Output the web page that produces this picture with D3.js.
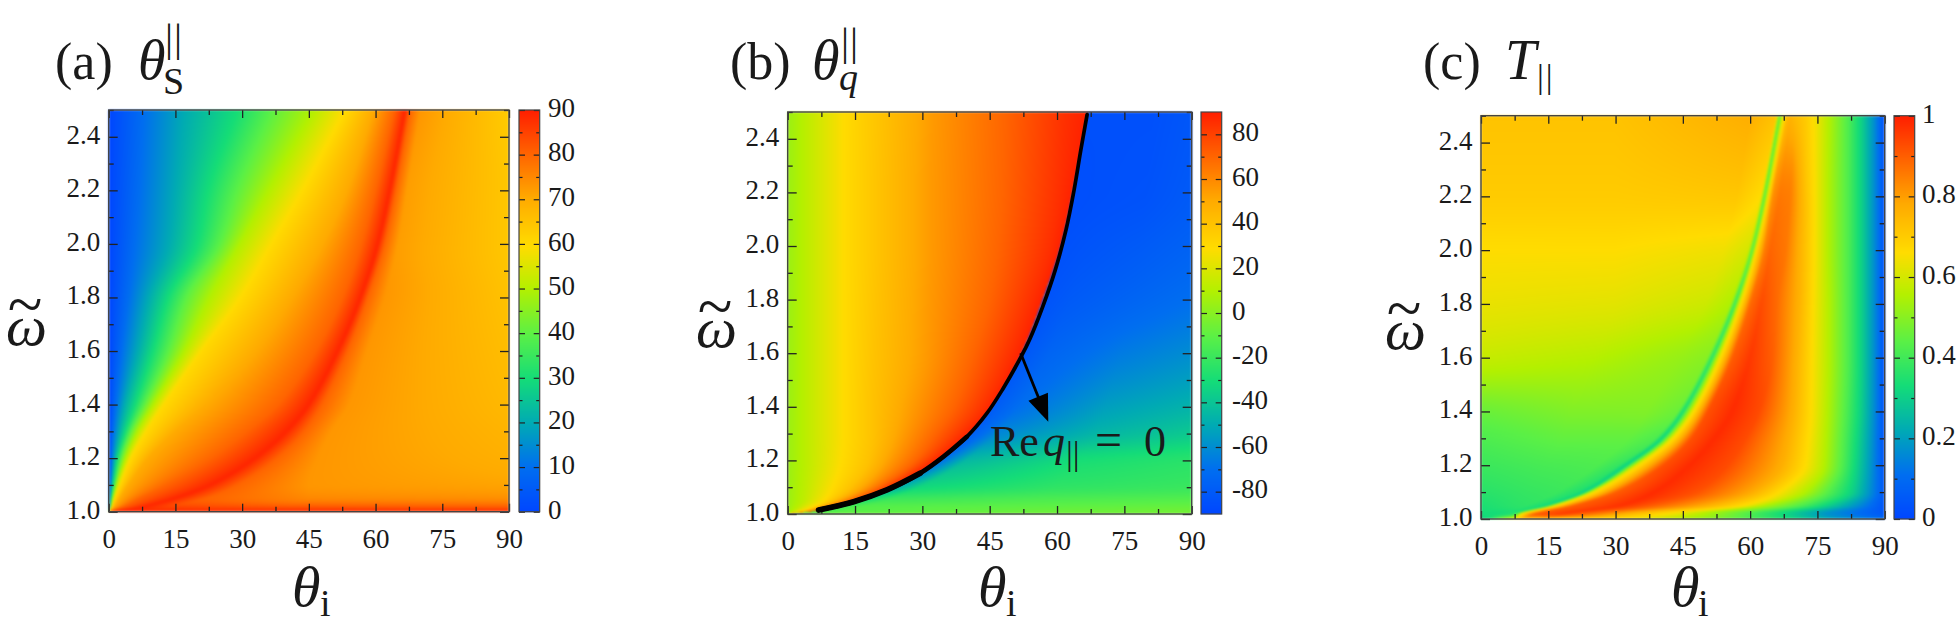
<!DOCTYPE html>
<html><head><meta charset="utf-8">
<script src="https://cdn.jsdelivr.net/npm/d3@7"></script>
<style>html,body{margin:0;padding:0;background:#fff}svg{display:block}text{font-family:"Liberation Serif",serif;fill:#1a1a1a}</style>
</head><body><svg id="c" width="1959" height="622"></svg>
<script>
// ---------- colour map ----------
const cmapStops=[0,.11,.22,.33,.44,.556,.66,.78,.89,1];
const cmapColors=["#0046ff","#006ef0","#00aab4","#14dc78","#5af046","#b4f000","#ffdc00","#ffaa00","#ff6400","#ff1e00"];

// ---------- panel (a): theta_S ----------
const aOmega=[1,1.006,1.012,1.02,1.05,1.1,1.2,1.3,1.4,1.6,1.8,2.0,2.2,2.5];
const aLevels=[0,10,20,30,40,50,60,70,80,89];
const aTheta=[
[0,.02,.04,.06,.08,.1,.12,.2,.3,.5,30,60,90],
[0,.03,.06,.09,.12,.16,.22,.5,1.2,3,10,40,90],
[0,.06,.12,.18,.25,.35,.5,.9,2.2,6,12,40,90],
[0,.1,.2,.3,.4,.5,.7,1.3,3.5,8.2,14,40,90],
[0,.15,.3,.5,.7,1,1.3,2.5,7,15,22,45,90],
[0,.3,.6,1,1.4,1.8,2.5,4.5,13,23,29,45,90],
[0,.6,1.3,2,2.8,3.8,5,9,23,33,38,47,90],
[0,1,2.3,3.8,5,6.5,8.5,15,31,40,44,50,90],
[0,1.6,3.5,6,8,10,12.5,22,38,45,48,54,90],
[0,3,6.5,10,13.5,17,21,33,46.5,51.5,53.7,58,90],
[0,4.5,9,13.5,17.5,22.8,30,41,52.5,56.6,58.2,62,90],
[0,6,13.5,20,25,29.5,37,48,56.8,60.5,62,65,90],
[0,7,15,22.5,29,36,44,53.5,60,63.2,64.5,67,90],
[0,8,17,29,37,46,53.5,59.5,64.2,66.6,67.7,70,90]];
const aRight=[[88,88,88],[87,86,86],[86,84,83],[84,81,80],[80,75,74],[80,73,71],[80,73,69],[80,73,68],[80,73,67],[80,73,66],[80,73,65],[80,72,64],[80,72,64],[80,73,63]];

// ---------- panel (b): theta_q ----------
const bOmega=[1,1.012,1.02,1.05,1.1,1.2,1.3,1.4,1.6,1.8,2.0,2.2,2.5];
const bLevels=[4,13,29,40,55,70,85,89];
const bRidge=[.5,6.3,8.2,15.5,23.3,33.6,40.6,45.4,52.1,56.8,60.8,63.5,66.8];
const bLeft=[
[0,.1,.2,.25,.3,.35,.4],
[0,1.5,3,4,5,5.6,6.1],
[0,2,4.5,5.5,6.5,7.2,7.9],
[0,3.5,8,10,12,14,15.1],
[0,4,10,14,17.5,20.5,22.7],
[0,4.5,12,18,23,28.5,32.3],
[0,4.5,12.5,19,26,33,39],
[0,4.5,12.5,19,28,37,44],
[0,4.5,12.5,19.5,31,41.5,50],
[0,4.5,12.5,20,31.5,45,54.5],
[0,4.5,12.5,20.5,32,47,58.5],
[0,4.5,12.5,20.5,32,48,60.5],
[0,4.5,12.5,21,32.5,48.5,62]];
const bRightVals=[[-6,-6,-6,-5],[-20,-12,-8,-6],[-20,-12,-9,-7],[-30,-18,-14,-12],[-52,-32,-23,-20],[-72,-45,-30,-25],[-78,-62,-46,-38],[-80,-70,-54,-47],[-82,-75,-66,-60],[-84,-80,-75,-70],[-85,-83,-80,-76],[-86,-85,-84,-80],[-85,-85,-85,-82]];
const lineOmega=[1.015,1.046,1.09,1.152,1.214,1.288,1.376,1.463,1.587,1.655,1.773,1.91,2.06,2.209,2.358,2.49];
const lineTheta=[6.9,14.7,22.1,29.5,34.7,39.9,44.4,47.8,52,54,56.8,59.6,62,63.8,65.3,66.7];
const lineThick=[{count:16,width:3.7},{count:6,width:4.6},{count:4,width:5.8}];
const arrowTheta=[51.9,58.05];
const arrowOmega=[1.6,1.344];

// ---------- panel (c): T ----------
const cOmega=[1,1.02,1.05,1.1,1.2,1.3,1.4,1.6,1.8,2.0,2.2,2.5];
const cTheta=[
[0,2,4,6,7,8,9,14,22,28,38,50,60,70,80,90],
[0,3,5.5,7.2,8,8.8,12,18,26,32,42,50,60,69,77,90],
[0,6,10,13.4,14.6,16,20.5,31,38,49,59,63,71.5,77.5,83.5,90],
[0,10,17,21.5,22.9,24.5,30,38.6,48,60,67,72.5,78,83,86.5,90],
[0,14,26,30.8,32.3,34.5,40.5,46.5,55,67,72.8,76.8,80.8,84,87,90],
[0,18,33,39,40.3,42.3,46.8,52,59,68.5,73.5,77.2,81.2,84.4,87.2,90],
[0,20,37,44,45,47,50.5,56,62,69.5,74,77.5,81.6,84.8,87.4,90],
[0,25,44,50.5,51.5,53,56,60,65,70.5,74.2,77.8,82,85,87.5,90],
[0,30,50,55.7,56.6,57.6,60,62.5,66,71,74.4,77.8,82,85,87.5,90],
[0,30,54,59.7,60.5,61.3,63.2,64.5,68,71.5,74.6,77.6,82,85,87.5,90],
[0,30,57,62.5,63.2,63.9,65,66.5,69,72.5,74.6,77.6,82,85,87.5,90],
[0,30,60,65.9,66.6,67.2,68.3,69,70,72.5,74.5,77.8,82,85,87.5,90]];
const cValue=[
[.3,.35,.5,.6,.66,.68,.7,.7,.68,.66,.6,.5,.42,.32,.2,.12],
[.33,.33,.34,.36,.42,.62,.9,.95,.85,.76,.65,.55,.42,.3,.18,.05],
[.34,.36,.37,.34,.31,.62,.9,.97,.9,.78,.65,.55,.42,.3,.18,.04],
[.36,.38,.39,.35,.3,.62,.9,.98,.92,.78,.65,.55,.42,.3,.18,.05],
[.39,.41,.42,.38,.3,.62,.92,.98,.93,.77,.65,.55,.42,.3,.18,.04],
[.42,.45,.45,.42,.31,.62,.92,.98,.93,.77,.65,.55,.42,.3,.18,.04],
[.46,.49,.49,.46,.33,.62,.92,.98,.93,.77,.65,.55,.42,.3,.18,.04],
[.58,.56,.52,.5,.36,.62,.9,.96,.9,.76,.65,.55,.42,.3,.18,.04],
[.63,.62,.59,.55,.38,.62,.88,.93,.88,.76,.65,.55,.42,.3,.18,.04],
[.66,.66,.64,.6,.42,.65,.85,.89,.86,.75,.65,.55,.42,.3,.18,.04],
[.7,.7,.71,.66,.42,.62,.82,.86,.85,.72,.65,.55,.42,.3,.18,.04],
[.72,.72,.77,.72,.42,.6,.74,.76,.74,.7,.65,.55,.42,.3,.18,.03]];

// ---------- ticks ----------
const xMajor=[0,15,30,45,60,75,90];
const xMinor=[7.5,22.5,37.5,52.5,67.5,82.5];
const yMajor=[1,1.2,1.4,1.6,1.8,2,2.2,2.4];
const yMinor=[1.1,1.3,1.5,1.7,1.9,2.1,2.3,2.5];
const barA={domain:[0,90],major:[0,10,20,30,40,50,60,70,80,90],minor:[5,15,25,35,45,55,65,75,85]};
const barB={domain:[-90,90],major:[-80,-60,-40,-20,0,20,40,60,80],minor:[-70,-50,-30,-10,10,30,50,70]};
const barC={domain:[0,1],major:[0,.2,.4,.6,.8,1],minor:[.1,.3,.5,.7,.9]};

// ---------- layout ----------
const panelA={l:108.7,r:509,t:110,b:511.7,cl:519,cr:539.7,lab:548};
const panelB={l:787.7,r:1191.7,t:112,b:514,cl:1201,cr:1221.7,lab:1232};
const panelC={l:1481,r:1884.7,t:115.7,b:519,cl:1894,cr:1914.7,lab:1922};

const svg=d3.select("#c");
const cmap=d3.scaleLinear().domain(cmapStops).range(cmapColors).interpolate(d3.interpolateRgb).clamp(true);

function rowsA(){return {om:aOmega,T:aTheta,V:aRight.map(r=>aLevels.concat(r))};}
function rowsB(){
  const T=bLeft.map((row,i)=>{const r=bRidge[i];return row.concat([r,r+.03,r+6,(r+6+90)/2,90]);});
  const V=bRightVals.map(r=>bLevels.slice(0,7).concat([89]).concat(r));
  return {om:bOmega,T,V};
}
function rowsC(){return {om:cOmega,T:cTheta,V:cValue};}

// monotone cubic between rows, so that features run smoothly from row to row
function rowInterp(om,table,k,i,t){
  const n=om.length;
  const slope=a=>(table[a+1][k]-table[a][k])/(om[a+1]-om[a]);
  const tan=a=>{
    if(a<=0)return slope(0);
    if(a>=n-1)return slope(n-2);
    const s0=slope(a-1),s1=slope(a);
    return s0*s1<=0?0:2*s0*s1/(s0+s1);
  };
  const h=om[i+1]-om[i],t2=t*t,t3=t2*t;
  return (2*t3-3*t2+1)*table[i][k]+(t3-2*t2+t)*h*tan(i)+(-2*t3+3*t2)*table[i+1][k]+(t3-t2)*h*tan(i+1);
}

function heat(P,rows,domain){
  const x=d3.scaleLinear().domain([0,90]).range([P.l,P.r]);
  const y=d3.scaleLinear().domain([1,2.5]).range([P.b,P.t]);
  const w=Math.round(P.r-P.l),h=Math.round(P.b-P.t);
  const cv=document.createElement("canvas");cv.width=w;cv.height=h;
  const ctx=cv.getContext("2d");const im=ctx.createImageData(w,h);
  const frac=d3.scaleLinear().domain(domain).range([0,1]);
  const nk=rows.T[0].length;
  for(let py=0;py<h;py++){
    const om=y.invert(P.t+py+.5);
    const i=Math.min(rows.om.length-2,Math.max(0,d3.bisectRight(rows.om,om)-1));
    const t=Math.max(0,Math.min(1,(om-rows.om[i])/(rows.om[i+1]-rows.om[i])));
    const K=[],Z=[];
    for(let k=0;k<nk;k++){K.push(rowInterp(rows.om,rows.T,k,i,t));Z.push(rowInterp(rows.om,rows.V,k,i,t));}
    for(let k=1;k<nk;k++)if(K[k]<K[k-1])K[k]=K[k-1];
    for(let px=0;px<w;px++){
      const th=x.invert(P.l+px+.5);
      const j=Math.min(K.length-2,Math.max(0,d3.bisectRight(K,th)-1));
      const d=K[j+1]-K[j];const u=d>0?Math.max(0,Math.min(1,(th-K[j])/d)):0;
      const c=d3.rgb(cmap(frac(Z[j]+(Z[j+1]-Z[j])*u)));
      const o=(py*w+px)*4;im.data[o]=c.r;im.data[o+1]=c.g;im.data[o+2]=c.b;im.data[o+3]=255;
    }
  }
  ctx.putImageData(im,0,0);
  svg.append("image").attr("x",P.l).attr("y",P.t).attr("width",P.r-P.l).attr("height",P.b-P.t)
    .attr("preserveAspectRatio","none").attr("href",cv.toDataURL()).style("filter","blur(0.8px)");
  return {x,y};
}

function axisSet(sc,P){
  const lab=27;
  const mk=(fn,s,vals,len,tr,fmt,pad)=>{
    const g=svg.append("g").attr("transform",tr);
    g.call(fn(s).tickValues(vals).tickSize(-len).tickSizeOuter(0).tickPadding(pad||0).tickFormat(fmt||(()=>"")));
    g.select(".domain").remove();
    g.selectAll("line").attr("stroke","#222").attr("stroke-width",1.3);
    g.attr("font-family",null).attr("font-size",null);
    g.selectAll("text").style("font-size",lab+"px").style("font-family",'"Liberation Serif",serif').style("fill","#1a1a1a");
    return g;
  };
  mk(d3.axisBottom,sc.x,xMajor,8,`translate(0,${P.b})`,d=>d,15).selectAll("text").attr("dy",null).attr("y",36).attr("text-anchor","middle");
  mk(d3.axisBottom,sc.x,xMinor,5,`translate(0,${P.b})`);
  mk(d3.axisTop,sc.x,xMajor,8,`translate(0,${P.t})`);
  mk(d3.axisTop,sc.x,xMinor,5,`translate(0,${P.t})`);
  mk(d3.axisLeft,sc.y,yMajor,9,`translate(${P.l},0)`,d3.format(".1f"),8.5).selectAll("text").attr("dy",null).attr("y",6.5);
  mk(d3.axisLeft,sc.y,yMinor,5,`translate(${P.l},0)`);
  mk(d3.axisRight,sc.y,yMajor,9,`translate(${P.r},0)`);
  mk(d3.axisRight,sc.y,yMinor,5,`translate(${P.r},0)`);
  svg.append("rect").attr("x",P.l).attr("y",P.t).attr("width",P.r-P.l).attr("height",P.b-P.t)
    .attr("fill","none").attr("stroke","#444").attr("stroke-width",1.4);
}

function colorBar(P,bar,fmt){
  const y=d3.scaleLinear().domain(bar.domain).range([P.b,P.t]);
  const frac=d3.scaleLinear().domain(bar.domain).range([0,1]);
  const steps=d3.range(Math.ceil(P.t),Math.ceil(P.b));
  svg.append("g").selectAll("rect").data(steps).join("rect")
    .attr("x",P.cl).attr("y",d=>d).attr("width",P.cr-P.cl).attr("height",1.2)
    .attr("fill",d=>cmap(frac(y.invert(d+.5))));
  const mk=(fn,vals,len,tr,f)=>{
    const g=svg.append("g").attr("transform",tr);
    g.call(fn(y).tickValues(vals).tickSize(-len).tickSizeOuter(0).tickPadding(0).tickFormat(f||(()=>"")));
    g.select(".domain").remove();
    g.selectAll("line").attr("stroke","#222").attr("stroke-width",1.2);
    return g;
  };
  mk(d3.axisLeft,bar.major,6,`translate(${P.cl},0)`);
  mk(d3.axisLeft,bar.minor,3.5,`translate(${P.cl},0)`);
  mk(d3.axisRight,bar.major,6,`translate(${P.cr},0)`);
  mk(d3.axisRight,bar.minor,3.5,`translate(${P.cr},0)`);
  svg.append("g").selectAll("text").data(bar.major).join("text")
    .attr("x",P.lab).attr("y",d=>y(d)+6.8).style("font-size","27px").text(fmt);
  svg.append("rect").attr("x",P.cl).attr("y",P.t).attr("width",P.cr-P.cl).attr("height",P.b-P.t)
    .attr("fill","none").attr("stroke","#444").attr("stroke-width",1.2);
}

function txt(s,x,y,size,italic,anchor,ls){
  const t=svg.append("text").attr("x",x).attr("y",y).style("font-size",size+"px")
    .style("font-style",italic?"italic":"normal").attr("text-anchor",anchor||"start").text(s);
  if(ls)t.style("letter-spacing",ls+"px");
  return t;
}
function omegaLabel(x,y){txt("ω",x,y,58,true);txt("~",x+19,y-19,64,false,"middle");}
function thetaI(x,y,xi){txt("θ",x,y,58,true);txt("i",xi,y+10,38,false);}

// ---------- draw ----------
const sa=heat(panelA,rowsA(),barA.domain);axisSet(sa,panelA);colorBar(panelA,barA,d=>d);
const sb=heat(panelB,rowsB(),barB.domain);axisSet(sb,panelB);colorBar(panelB,barB,d=>d);
const sc=heat(panelC,rowsC(),barC.domain);axisSet(sc,panelC);colorBar(panelC,barC,d=>d===0||d===1?d:d3.format(".1f")(d));

// Re q = 0 curve: thicker toward its lower end
const ln=d3.line().curve(d3.curveCatmullRom).x(i=>sb.x(lineTheta[i])).y(i=>sb.y(lineOmega[i]));
svg.append("g").selectAll("path").data(lineThick).join("path")
  .attr("d",d=>ln(d3.range(d.count)))
  .attr("fill","none").attr("stroke","#000").attr("stroke-linecap","round")
  .attr("stroke-width",d=>d.width);
// arrow
const ax0=sb.x(arrowTheta[0]),ay0=sb.y(arrowOmega[0]),ax1=sb.x(arrowTheta[1]),ay1=sb.y(arrowOmega[1]);
const ang=Math.atan2(ay1-ay0,ax1-ax0);
svg.append("path").attr("d",d3.line()([[ax0,ay0],[ax1-22*Math.cos(ang),ay1-22*Math.sin(ang)]]))
  .attr("stroke","#000").attr("stroke-width",2.8).attr("fill","none");
const hb=[ax1-27*Math.cos(ang),ay1-27*Math.sin(ang)],nx=-Math.sin(ang),ny=Math.cos(ang);
svg.append("path").attr("d",d3.line()([[ax1,ay1],[hb[0]+10.5*nx,hb[1]+10.5*ny],[hb[0]-10.5*nx,hb[1]-10.5*ny]])+"Z").attr("fill","#000");
// annotation
txt("Re",990,456,44,false);txt("q",1043,456,44,true);
txt("||",1066,465,34,false);txt("=",1095,456,48,false);txt("0",1144,456,44,false);

// titles
txt("(a)",55,79,52,false);txt("θ",138,79,56,true);txt("||",165,51,40,false,null,1);txt("S",163,94,38,false);
txt("(b)",730,79,52,false);txt("θ",812,79,56,true);txt("||",841,55,40,false,null,1);txt("q",839,90,38,true);
txt("(c)",1423,79,52,false);txt("T",1505,79,56,true);txt("||",1537,88,34,false,null,2);
// axis labels
omegaLabel(6,345);omegaLabel(696,347);omegaLabel(1385,349);
thetaI(292,606,320);thetaI(978,606,1006);thetaI(1671,606,1698);
</script></body></html>
